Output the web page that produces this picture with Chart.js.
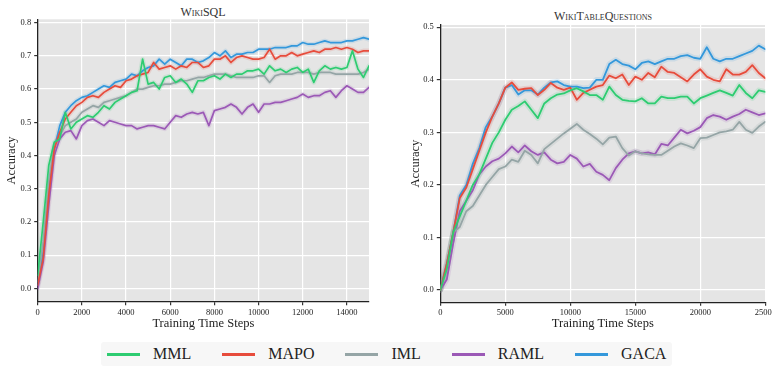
<!DOCTYPE html>
<html>
<head>
<meta charset="utf-8">
<script src="https://cdn.jsdelivr.net/npm/chart.js@4.4.1/dist/chart.umd.min.js"></script>
<style>
  body { margin: 0; width: 772px; height: 366px; background: #fff; position: relative; overflow: hidden; font-family: 'Liberation Serif', serif; }
  canvas { position: absolute; top: 0; }
  .title { position: absolute; font-size: 12px; font-weight: normal; font-variant: small-caps; color: #333; white-space: nowrap; transform: translateX(-50%); line-height: 14px; }
  #legend { position: absolute; left: 101px; top: 342px; height: 24px; padding: 0 6px; background: #f7f7f7; border-radius: 3px; display: flex; align-items: center; }
  .item { display: flex; align-items: center; margin-right: 31px; font-size: 16px; color: #222; }
  .item:last-child { margin-right: 0; }
  .swatch { width: 33px; height: 3px; margin-right: 13px; }
</style>
</head>
<body>
<div class="title" style="left:203px;top:5px">WikiSQL</div>
<div class="title" style="left:603px;top:9px">WikiTableQuestions</div>
<canvas id="sql" width="372" height="335" style="left:0"></canvas>
<canvas id="wtq" width="382" height="335" style="left:390px"></canvas>
<div id="legend"></div>
<script>
// series names / colours (legend order)
const names = ['MML', 'MAPO', 'IML', 'RAML', 'GACA'];
const colors = ['#2ecc71', '#e74c3c', '#95a5a6', '#9b59b6', '#3498db'];
const bandColors = ['rgba(46,204,113,0.15)', 'rgba(231,76,60,0.15)', 'rgba(149,165,166,0.18)', 'rgba(155,89,182,0.15)', 'rgba(52,152,219,0.15)'];

// WikiSQL
const sqlSteps = [0, 250, 500, 750, 1000, 1250, 1500, 1750, 2000, 2250, 2500, 2750, 3000, 3250, 3500, 3750, 4000, 4250, 4500, 4750,
  5000, 5250, 5500, 5750, 6000, 6250, 6500, 6750, 7000, 7250, 7500, 7750, 8000, 8250, 8500, 8750, 9000, 9250, 9500, 9750,
  10000, 10250, 10500, 10750, 11000, 11250, 11500, 11750, 12000, 12250, 12500, 12750, 13000, 13250, 13500, 13750, 14000, 14250, 14500, 14750, 15000];
const sqlMML = [0.04, 0.20, 0.37, 0.44, 0.45, 0.53, 0.48, 0.50, 0.51, 0.52, 0.515, 0.53, 0.55, 0.54, 0.56, 0.57, 0.58, 0.59, 0.595, 0.69,
  0.615, 0.62, 0.60, 0.635, 0.64, 0.62, 0.63, 0.615, 0.59, 0.625, 0.625, 0.635, 0.64, 0.63, 0.645, 0.635, 0.645, 0.645, 0.655, 0.655,
  0.66, 0.645, 0.67, 0.655, 0.66, 0.65, 0.66, 0.665, 0.65, 0.66, 0.62, 0.655, 0.67, 0.66, 0.665, 0.66, 0.665, 0.715, 0.66, 0.635, 0.67];
const sqlMAPO = [0.01, 0.09, 0.28, 0.42, 0.47, 0.51, 0.53, 0.55, 0.56, 0.575, 0.58, 0.575, 0.59, 0.60, 0.61, 0.605, 0.625, 0.63, 0.64, 0.645,
  0.65, 0.68, 0.66, 0.665, 0.67, 0.66, 0.67, 0.665, 0.68, 0.68, 0.665, 0.67, 0.69, 0.69, 0.70, 0.68, 0.695, 0.70, 0.695, 0.69,
  0.69, 0.695, 0.72, 0.69, 0.70, 0.70, 0.71, 0.70, 0.705, 0.71, 0.715, 0.71, 0.72, 0.72, 0.725, 0.72, 0.725, 0.72, 0.71, 0.715, 0.715];
const sqlIML = [0.02, 0.14, 0.32, 0.43, 0.46, 0.49, 0.50, 0.51, 0.53, 0.54, 0.55, 0.545, 0.56, 0.565, 0.57, 0.575, 0.58, 0.59, 0.60, 0.60,
  0.605, 0.61, 0.61, 0.615, 0.615, 0.62, 0.625, 0.625, 0.63, 0.635, 0.635, 0.64, 0.645, 0.645, 0.645, 0.64, 0.635, 0.635, 0.635, 0.635,
  0.64, 0.64, 0.62, 0.64, 0.645, 0.645, 0.645, 0.65, 0.65, 0.65, 0.645, 0.65, 0.65, 0.65, 0.645, 0.645, 0.645, 0.645, 0.645, 0.65, 0.66];
const sqlRAML = [0.00, 0.08, 0.25, 0.40, 0.45, 0.47, 0.475, 0.45, 0.49, 0.505, 0.51, 0.50, 0.49, 0.505, 0.50, 0.495, 0.49, 0.49, 0.48, 0.485,
  0.49, 0.49, 0.485, 0.48, 0.50, 0.52, 0.515, 0.525, 0.53, 0.525, 0.53, 0.49, 0.535, 0.54, 0.545, 0.555, 0.545, 0.525, 0.545, 0.555,
  0.53, 0.555, 0.555, 0.56, 0.56, 0.565, 0.57, 0.575, 0.585, 0.575, 0.58, 0.58, 0.59, 0.595, 0.575, 0.595, 0.61, 0.60, 0.59, 0.59, 0.605];
const sqlGACA = [0.01, 0.11, 0.30, 0.42, 0.49, 0.53, 0.55, 0.565, 0.575, 0.58, 0.59, 0.60, 0.61, 0.605, 0.62, 0.625, 0.63, 0.645, 0.64, 0.655,
  0.665, 0.67, 0.69, 0.675, 0.69, 0.68, 0.67, 0.69, 0.69, 0.68, 0.685, 0.695, 0.71, 0.70, 0.715, 0.695, 0.705, 0.705, 0.71, 0.71,
  0.72, 0.72, 0.72, 0.725, 0.725, 0.725, 0.73, 0.73, 0.74, 0.735, 0.735, 0.74, 0.745, 0.74, 0.74, 0.74, 0.745, 0.745, 0.75, 0.755, 0.75];
const sqlXTicks = [0, 2000, 4000, 6000, 8000, 10000, 12000, 14000];
const sqlYTicks = [0.0, 0.1, 0.2, 0.3, 0.4, 0.5, 0.6, 0.7, 0.8];

// WikiTableQuestions
const wtqSteps = [0, 500, 1000, 1500, 2000, 2500, 3000, 3500, 4000, 4500, 5000, 5500, 6000, 6500, 7000, 7500, 8000, 8500, 9000, 9500,
  10000, 10500, 11000, 11500, 12000, 12500, 13000, 13500, 14000, 14500, 15000, 15500, 16000, 16500, 17000, 17500, 18000, 18500, 19000, 19500,
  20000, 20500, 21000, 21500, 22000, 22500, 23000, 23500, 24000, 24500, 25000];
const wtqMML = [0.0, 0.04, 0.11, 0.14, 0.17, 0.20, 0.22, 0.25, 0.28, 0.30, 0.324, 0.343, 0.35, 0.359, 0.343, 0.327, 0.355, 0.365, 0.372, 0.374,
  0.38, 0.384, 0.378, 0.371, 0.371, 0.362, 0.387, 0.371, 0.362, 0.36, 0.359, 0.365, 0.355, 0.355, 0.368, 0.365, 0.365, 0.368, 0.368, 0.355,
  0.365, 0.37, 0.375, 0.38, 0.375, 0.37, 0.39, 0.375, 0.365, 0.38, 0.377];
const wtqMAPO = [0.0, 0.05, 0.11, 0.175, 0.195, 0.23, 0.265, 0.30, 0.33, 0.355, 0.385, 0.395, 0.381, 0.383, 0.384, 0.371, 0.381, 0.394, 0.385, 0.381,
  0.385, 0.362, 0.375, 0.381, 0.387, 0.39, 0.408, 0.403, 0.41, 0.39, 0.406, 0.40, 0.413, 0.405, 0.425, 0.415, 0.413, 0.405, 0.397, 0.41,
  0.42, 0.406, 0.40, 0.397, 0.42, 0.41, 0.41, 0.415, 0.428, 0.413, 0.403];
const wtqIML = [0.0, 0.04, 0.11, 0.12, 0.15, 0.16, 0.18, 0.20, 0.215, 0.23, 0.235, 0.248, 0.244, 0.265, 0.257, 0.241, 0.268, 0.278, 0.288, 0.298,
  0.307, 0.316, 0.305, 0.297, 0.288, 0.277, 0.29, 0.292, 0.27, 0.256, 0.264, 0.26, 0.258, 0.257, 0.257, 0.265, 0.273, 0.279, 0.275, 0.27,
  0.289, 0.29, 0.295, 0.30, 0.302, 0.305, 0.32, 0.305, 0.299, 0.311, 0.32];
const wtqRAML = [0.0, 0.02, 0.09, 0.15, 0.17, 0.19, 0.22, 0.235, 0.245, 0.25, 0.26, 0.273, 0.262, 0.275, 0.264, 0.257, 0.262, 0.248, 0.241, 0.244,
  0.257, 0.25, 0.235, 0.24, 0.225, 0.219, 0.209, 0.232, 0.248, 0.26, 0.264, 0.26, 0.262, 0.258, 0.278, 0.275, 0.29, 0.305, 0.298, 0.303,
  0.31, 0.327, 0.333, 0.33, 0.324, 0.33, 0.335, 0.343, 0.338, 0.333, 0.336];
const wtqGACA = [0.0, 0.05, 0.11, 0.18, 0.20, 0.24, 0.27, 0.31, 0.33, 0.355, 0.385, 0.39, 0.372, 0.38, 0.38, 0.372, 0.385, 0.395, 0.397, 0.39,
  0.387, 0.387, 0.384, 0.385, 0.40, 0.40, 0.43, 0.438, 0.43, 0.427, 0.42, 0.432, 0.435, 0.43, 0.435, 0.44, 0.44, 0.445, 0.447, 0.442,
  0.44, 0.462, 0.44, 0.435, 0.44, 0.44, 0.445, 0.45, 0.455, 0.465, 0.458];
const wtqXTicks = [0, 5000, 10000, 15000, 20000, 25000];
const wtqYTicks = [0.0, 0.1, 0.2, 0.3, 0.4, 0.5];

// grey panel behind the plot area (ggplot look)
const plotBg = {
  id: 'plotBg',
  beforeDraw(chart) {
    const a = chart.chartArea;
    const ctx = chart.ctx;
    ctx.save();
    ctx.fillStyle = '#e5e5e5';
    ctx.fillRect(a.left, a.top, a.right - a.left, a.bottom - a.top);
    ctx.restore();
  }
};

const tickFont = { family: 'Liberation Serif', size: 8.5 };
const labelFont = { family: 'Liberation Serif', size: 12.5 };

function makeChart(id, steps, series, cfg) {
  const datasets = [];
  series.forEach((vals, i) => {
    const pts = steps.map((s, j) => ({ x: s, y: vals[j] }));
    datasets.push({ label: names[i], data: pts, borderColor: colors[i], borderWidth: cfg.lineWidth, order: i });
    // faint wide copy under the line stands in for the std shading
    datasets.push({ label: names[i] + ' std', data: pts, borderColor: bandColors[i], borderWidth: cfg.bandWidth, order: 10 + i });
  });

  return new Chart(document.getElementById(id), {
    type: 'line',
    data: { datasets },
    options: {
      responsive: false,
      animation: false,
      devicePixelRatio: 1,
      layout: { padding: { top: cfg.top, right: cfg.right, left: 0, bottom: 0 } },
      elements: {
        point: { radius: 0 },
        line: { tension: 0, borderJoinStyle: 'round', borderCapStyle: 'round' }
      },
      plugins: {
        legend: { display: false },
        tooltip: { enabled: false },
        title: { display: false }
      },
      scales: {
        x: {
          type: 'linear',
          min: 0,
          max: cfg.xMax,
          afterBuildTicks: s => { s.ticks = cfg.xTicks.map(v => ({ value: v })); },
          afterFit: s => { s.height = cfg.xHeight; s.paddingLeft = 0; s.paddingRight = 0; },
          grid: { color: '#ffffff', lineWidth: 1.2, tickColor: '#333', tickLength: 3.5 },
          border: { display: true, color: '#222', width: 1.3 },
          ticks: { font: tickFont, color: '#222', padding: 2, maxRotation: 0, autoSkip: false, callback: v => String(v) },
          title: { display: true, text: 'Training Time Steps', font: labelFont, color: '#222', padding: { top: 0, bottom: 4 } }
        },
        y: {
          type: 'linear',
          min: cfg.yMin,
          max: cfg.yMax,
          afterBuildTicks: s => { s.ticks = cfg.yTicks.map(v => ({ value: v })); },
          afterFit: s => { s.width = cfg.yWidth; s.paddingTop = 0; s.paddingBottom = 0; },
          grid: { color: '#ffffff', lineWidth: 1.2, tickColor: '#333', tickLength: 3.5 },
          border: { display: true, color: '#222', width: 1.3 },
          ticks: { font: tickFont, color: '#222', padding: 3, autoSkip: false, callback: v => v.toFixed(1) },
          title: { display: true, text: 'Accuracy', font: labelFont, color: '#222', padding: { top: cfg.yTitlePad, bottom: 0 } }
        }
      }
    },
    plugins: [plotBg]
  });
}

makeChart('sql', sqlSteps, [sqlMML, sqlMAPO, sqlIML, sqlRAML, sqlGACA], {
  xMax: 15000, xTicks: sqlXTicks, yMin: -0.04, yMax: 0.81, yTicks: sqlYTicks,
  top: 19.3, right: 3, yWidth: 37.7, xHeight: 33.3, yTitlePad: 4.5,
  lineWidth: 1.7, bandWidth: 4.5
});

makeChart('wtq', wtqSteps, [wtqMML, wtqMAPO, wtqIML, wtqRAML, wtqGACA], {
  xMax: 25000, xTicks: wtqXTicks, yMin: -0.0234, yMax: 0.5043, yTicks: wtqYTicks,
  top: 25, right: 6.7, yWidth: 50.3, xHeight: 32.7, yTitlePad: 18.5,
  lineWidth: 1.8, bandWidth: 5.5
});

// legend
const legend = document.getElementById('legend');
names.forEach((n, i) => {
  const item = document.createElement('div');
  item.className = 'item';
  item.innerHTML = '<span class="swatch" style="background:' + colors[i] + '"></span>' + n;
  legend.appendChild(item);
});
</script>
</body>
</html>
